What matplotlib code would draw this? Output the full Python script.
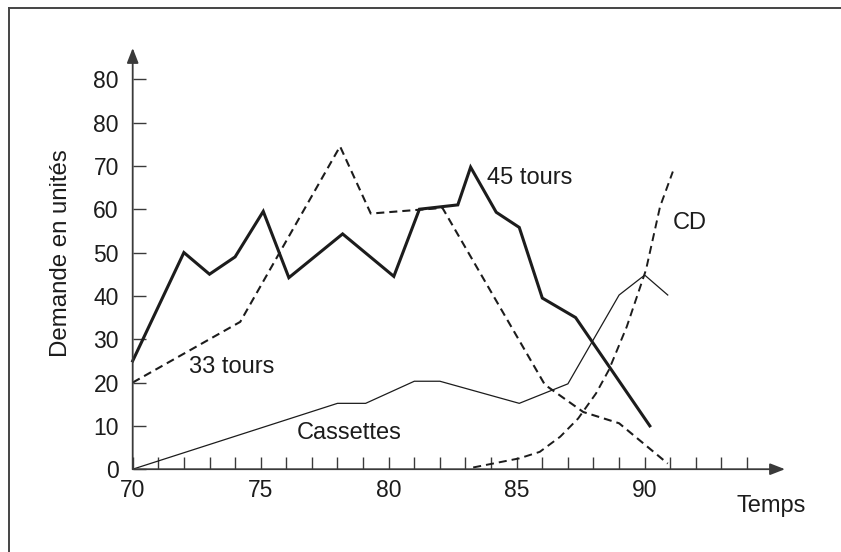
import matplotlib
matplotlib.use('Agg')
import matplotlib.pyplot as plt
from matplotlib.lines import Line2D

plt.rcParams['font.family'] = ['Liberation Sans', 'DejaVu Sans']
plt.rcParams['lines.scale_dashes'] = False

# data (year, demand in units)
years_45 = [70, 72, 73, 74, 75.1, 76.1, 78.2, 80.2, 81.2, 82.7, 83.2, 84.2, 85.1, 86.0, 87.3, 90.2]
dem_45 = [25, 50, 45, 49, 59.5, 44.2, 54.3, 44.5, 60, 61, 69.7, 59.3, 55.8, 39.5, 35, 10]

years_33 = [70, 74.2, 78.1, 79.3, 82.1, 86.1, 87.6, 89.0, 90.9]
dem_33 = [20, 34, 74.5, 59, 60.3, 19.5, 13.2, 10.6, 1.3]

years_cass = [70, 78, 79.1, 81, 82, 85.1, 87, 89, 90, 90.9]
dem_cass = [0, 15.2, 15.2, 20.3, 20.3, 15.2, 19.7, 40.2, 44.8, 40.2]

years_cd = [83.3, 85.1, 85.9, 86.7, 87.4, 88.1, 88.6, 89.3, 90.05, 90.6, 91.1]
dem_cd = [0.4, 2.5, 4.0, 7.5, 11.7, 17.5, 22.9, 32.9, 46, 60.6, 68.7]

ytick_vals = [0, 10, 20, 30, 40, 50, 60, 70, 80, 90]
ytick_labels = ['0', '10', '20', '30', '40', '50', '60', '70', '80', '80']
xtick_vals = list(range(70, 95))
xtick_labels = [str(v) if v % 5 == 0 and v <= 90 else '' for v in xtick_vals]

ink = '#1c1c1c'
axis_col = '#3a3a3a'

W, H = 841, 552
fig = plt.figure(figsize=(W / 100, H / 100), dpi=100)
fig.patch.set_facecolor('white')

# frame round the figure (only top and left visible)
fig.add_artist(Line2D([8.5 / W, 8.5 / W], [0, 1 - 7.5 / H], color='#444444', lw=1.4,
                      transform=fig.transFigure))
fig.add_artist(Line2D([8.5 / W, 1], [1 - 7.5 / H, 1 - 7.5 / H], color='#444444', lw=1.4,
                      transform=fig.transFigure))

x0, x1 = 132.7, 785.0
y0, y1 = 469.2, 48.0
ax = fig.add_axes([x0 / W, 1 - y0 / H, (x1 - x0) / W, (y0 - y1) / H])
ax.set_xlim(70, 70 + (x1 - x0) / 25.6)
ax.set_ylim(0, (y0 - y1) / 4.333)
for s in ax.spines.values():
    s.set_visible(False)

# axes with arrow heads
arr = dict(arrowstyle='-|>,head_length=0.9,head_width=0.35', color=axis_col, lw=1.3,
           shrinkA=0, shrinkB=0)
ax.annotate('', xy=(1, 0), xytext=(0, 0), xycoords='axes fraction', arrowprops=arr,
            annotation_clip=False)
ax.annotate('', xy=(0, 1), xytext=(0, 0), xycoords='axes fraction', arrowprops=arr,
            annotation_clip=False)

ax.plot(years_45, dem_45, color=ink, lw=2.2, solid_joinstyle='miter', clip_on=False)
ax.plot(years_33, dem_33, color=ink, lw=1.5, dashes=(5.8, 3.6), clip_on=False)
ax.plot(years_cass, dem_cass, color=ink, lw=0.9, clip_on=False)
ax.plot(years_cd, dem_cd, color=ink, lw=1.4, dashes=(5.8, 3.6), clip_on=False)

ax.set_yticks(ytick_vals)
ax.set_yticklabels(ytick_labels)
ax.set_xticks(xtick_vals)
ax.set_xticklabels(xtick_labels)
ax.tick_params(axis='y', direction='in', length=9.5, width=1.0, color=axis_col,
               pad=10, labelsize=16.5, labelcolor=ink)
ax.tick_params(axis='x', direction='in', length=8.8, width=1.0, color=axis_col,
               pad=7, labelsize=16.5, labelcolor=ink)

ax.text(-0.11, 0.513, 'Demande en unités', transform=ax.transAxes, rotation=90,
        ha='center', va='center', fontsize=17.3, color=ink)

lab = dict(fontsize=17, color=ink, va='center', ha='left')
ax.text(83.84, 67.2, '45 tours', **lab)
ax.text(72.2, 23.6, '33 tours', **lab)
ax.text(76.4, 8.3, 'Cassettes', **lab)
ax.text(91.1, 56.9, 'CD', **lab)
ax.text(93.6, -8.5, 'Temps', clip_on=False, **lab)

fig.savefig('out.png', dpi=100)
